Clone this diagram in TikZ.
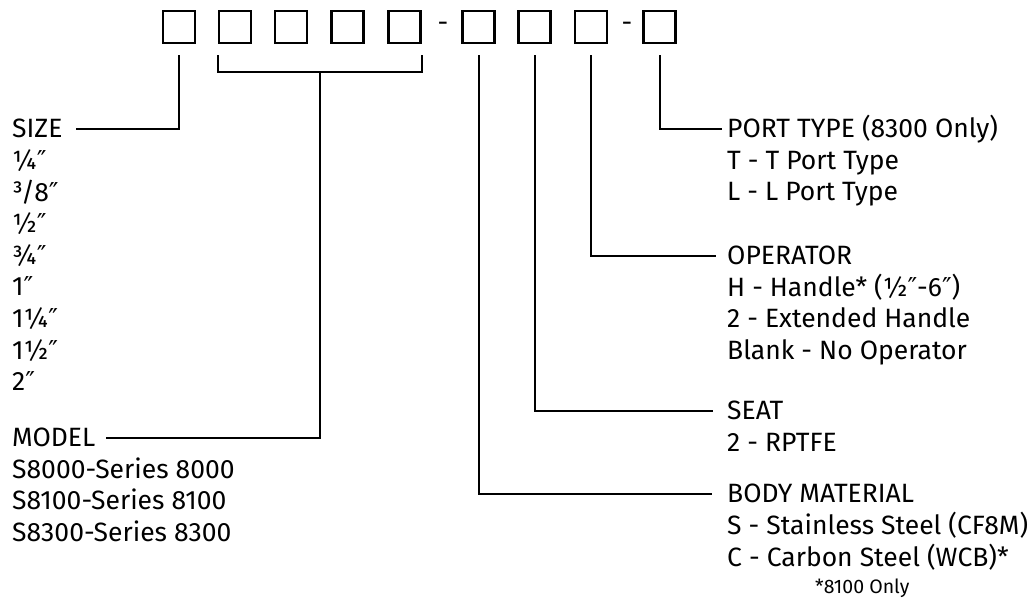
\documentclass[tikz,border=0pt]{standalone}
\usepackage{fontspec}
\setmainfont{Fira Sans}
\newfontfamily\primefont{DejaVu Sans}
\newcommand{\dpr}{{\primefont\fontsize{26}{30}\selectfont ″}}
\usetikzlibrary{calc}
\begin{document}
\begin{tikzpicture}[x=1pt,y=-1pt]
\tikzset{
  box/.style={draw, line width=2.2pt, minimum size=32pt, inner sep=0pt},
  conn/.style={line width=2pt},
  lbl/.style={inner sep=0pt, anchor=base west, font=\fontsize{26.5}{30}\selectfont},
  head/.style={lbl, text height=18pt, text depth=0pt},
  note/.style={inner sep=0pt, anchor=base west, font=\fontsize{19.5}{23}\selectfont},
  dashmark/.style={inner sep=0pt, font=\fontsize{26.5}{30}\selectfont}
}
\useasboundingbox (0,0) rectangle (1034,601);
% code boxes
\foreach \n/\x in {1/179,2/235,3/291,4/347.5,5/404.5,6/478.5,7/534.5,8/591,9/659.5}
  \node[box] (b\n) at (\x,27) {};
\node[dashmark] (d1) at (443,27) {-};
\node[dashmark] (d2) at (627,27) {-};
% left labels
\node[head] (size) at (12,138) {SIZE};
\foreach \i/\t in {1/{¼\dpr},2/{³/8\dpr},3/{½\dpr},4/{¾\dpr},5/{1\dpr},6/{1¼\dpr},7/{1½\dpr},8/{2\dpr}}
  \node[lbl] (sz\i) at (12,{138+31.6*\i}) {\t};
\node[head] (model) at (12,447) {MODEL};
\node[lbl] (m1) at (12,478.5) {S8000-Series 8000};
\node[lbl] (m2) at (12,510) {S8100-Series 8100};
\node[lbl] (m3) at (12,541.5) {S8300-Series 8300};
% right labels
\node[head] (port) at (727,138) {PORT TYPE (8300 Only)};
\node[lbl] (p1) at (727,169.5) {T - T Port Type};
\node[lbl] (p2) at (727,201) {L - L Port Type};
\node[head] (oper) at (727,265) {OPERATOR};
\node[lbl] (o1) at (727,296.5) {H - Handle* (½\dpr-6\dpr)};
\node[lbl] (o2) at (727,328) {2 - Extended Handle};
\node[lbl] (o3) at (727,359.5) {Blank - No Operator};
\node[head] (seat) at (727,420) {SEAT};
\node[lbl] (s1) at (727,451.5) {2 - RPTFE};
\node[head] (body) at (727,503) {BODY MATERIAL};
\node[lbl] (bm1) at (727,534.5) {S - Stainless Steel (CF8M)};
\node[lbl] (bm2) at (727,566) {C - Carbon Steel (WCB)*};
\node[note] (bm3) at (815,593) {*8100 Only};
% connectors
\draw[conn] ([yshift=-11pt]b1.south) |- ([xshift=13pt]size.east);
\coordinate (brL) at ([yshift=-11pt]b2.south west);
\coordinate (brR) at ([yshift=-11pt]b5.south east);
\draw[conn] (brL) -- ++(0,17) -| (brR);
\coordinate (brM) at ($(brL)!0.5!(brR)+(0,17)$);
\draw[conn] (brM) |- ([xshift=10pt]model.east);
\draw[conn] ([yshift=-11pt]b6.south) |- ([xshift=-15pt]body.west);
\draw[conn] ([yshift=-11pt]b7.south) |- ([xshift=-14pt]seat.west);
\draw[conn] ([yshift=-11pt]b8.south) |- ([xshift=-11pt]oper.west);
\draw[conn] ([yshift=-11pt]b9.south) |- ([xshift=-5pt]port.west);
\end{tikzpicture}
\end{document}
